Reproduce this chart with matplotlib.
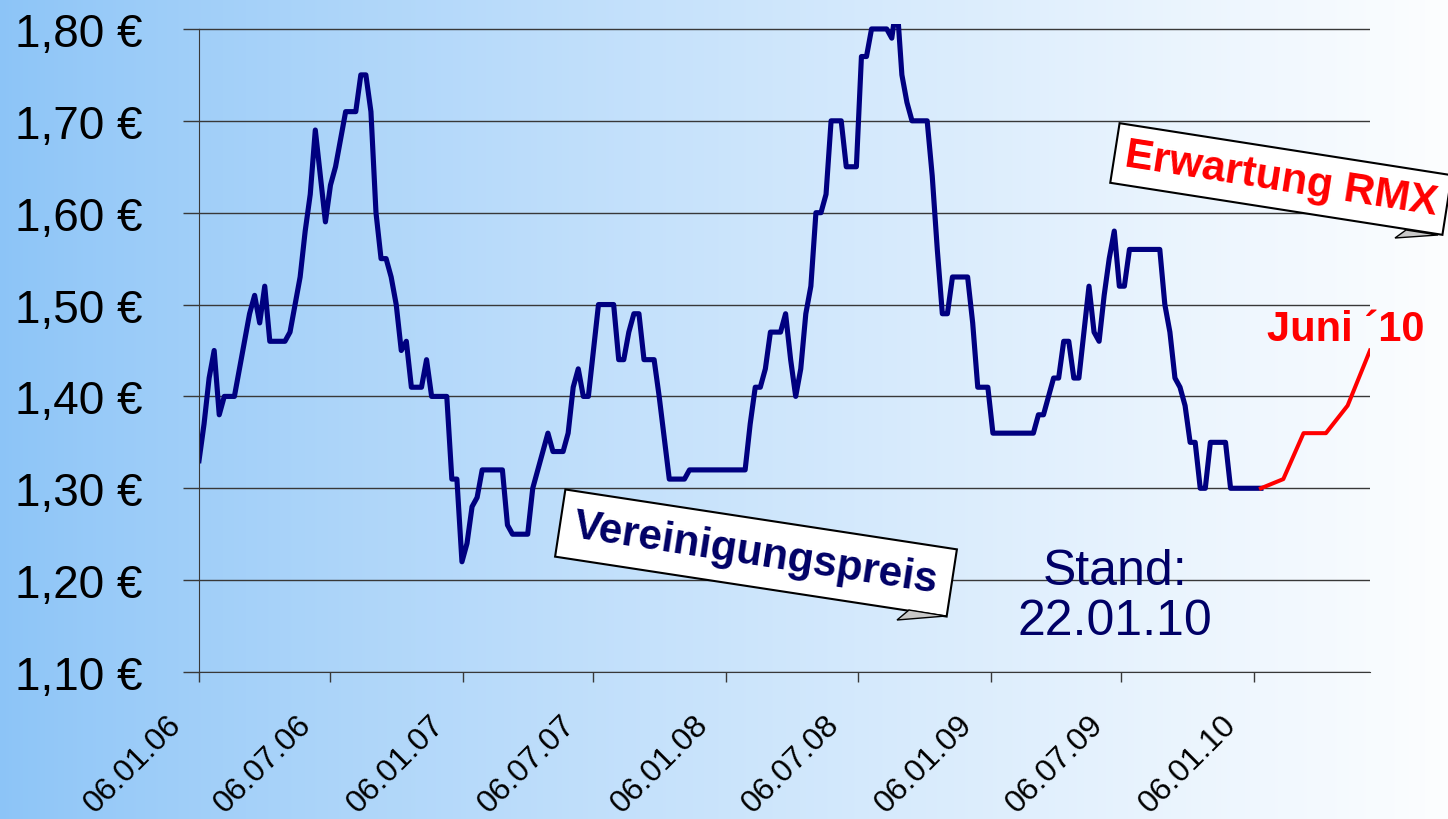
import numpy as np
import pandas as pd
import matplotlib
matplotlib.use('Agg')
import matplotlib.pyplot as plt
import matplotlib.transforms as mtransforms
from matplotlib.patches import Polygon

plt.rcParams['font.family'] = ['Liberation Sans', 'DejaVu Sans']

# Vereinigungspreis, weekly (weeks after 06.01.06, only the corner points)
start = pd.Timestamp('2006-01-06')
blue_weeks = [0, 1, 2, 3, 4, 5, 7, 8, 9, 10, 11, 12, 13, 14, 17, 18, 19, 20, 21, 22,
              23, 24, 25, 26, 27, 28, 29, 31, 32, 33, 34, 35, 36, 37, 38, 39, 40, 41, 42, 44,
              45, 46, 49, 50, 51, 52, 53, 54, 55, 56, 60, 61, 62, 65, 66, 67, 68, 69, 70, 72,
              73, 74, 75, 76, 77, 78, 79, 82, 83, 84, 85, 86, 87, 88, 90, 91, 93, 96, 97, 108,
              109, 110, 111, 112, 113, 115, 116, 117, 118, 119, 120, 121, 122, 123, 124, 125, 127, 128, 130, 131,
              132, 133, 136, 137, 138, 139, 140, 141, 144, 145, 146, 147, 148, 149, 152, 153, 154, 156, 157, 165,
              166, 167, 168, 169, 170, 171, 172, 173, 174, 175, 176, 177, 178, 179, 180, 181, 182, 183, 184, 190,
              191, 192, 193, 194, 195, 196, 197, 198, 199, 200, 203, 204, 210]
blue_prices = [1.33, 1.37, 1.42, 1.45, 1.38, 1.40, 1.40, 1.43, 1.46, 1.49, 1.51, 1.48, 1.52, 1.46, 1.46, 1.47, 1.50, 1.53, 1.58, 1.62,
               1.69, 1.64, 1.59, 1.63, 1.65, 1.68, 1.71, 1.71, 1.75, 1.75, 1.71, 1.60, 1.55, 1.55, 1.53, 1.50, 1.45, 1.46, 1.41, 1.41,
               1.44, 1.40, 1.40, 1.31, 1.31, 1.22, 1.24, 1.28, 1.29, 1.32, 1.32, 1.26, 1.25, 1.25, 1.30, 1.32, 1.34, 1.36, 1.34, 1.34,
               1.36, 1.41, 1.43, 1.40, 1.40, 1.45, 1.50, 1.50, 1.44, 1.44, 1.47, 1.49, 1.49, 1.44, 1.44, 1.40, 1.31, 1.31, 1.32, 1.32,
               1.37, 1.41, 1.41, 1.43, 1.47, 1.47, 1.49, 1.44, 1.40, 1.43, 1.49, 1.52, 1.60, 1.60, 1.62, 1.70, 1.70, 1.65, 1.65, 1.77,
               1.77, 1.80, 1.80, 1.79, 1.83, 1.75, 1.72, 1.70, 1.70, 1.64, 1.56, 1.49, 1.49, 1.53, 1.53, 1.48, 1.41, 1.41, 1.36, 1.36,
               1.38, 1.38, 1.40, 1.42, 1.42, 1.46, 1.46, 1.42, 1.42, 1.47, 1.52, 1.47, 1.46, 1.51, 1.55, 1.58, 1.52, 1.52, 1.56, 1.56,
               1.50, 1.47, 1.42, 1.41, 1.39, 1.35, 1.35, 1.30, 1.30, 1.35, 1.35, 1.30, 1.30]

# Erwartung RMX (monthly)
red_dates = ['2010-01-15', '2010-02-15', '2010-03-15', '2010-04-15', '2010-05-15', '2010-06-15']
red_prices = [1.30, 1.31, 1.36, 1.36, 1.39, 1.45]

tick_dates = ['2006-01-06', '2006-07-06', '2007-01-06', '2007-07-06', '2008-01-06',
              '2008-07-06', '2009-01-06', '2009-07-06', '2010-01-06']
tick_labels = ['06.01.06', '06.07.06', '06.01.07', '06.07.07', '06.01.08',
               '06.07.08', '06.01.09', '06.07.09', '06.01.10']
y_ticks = [1.10, 1.20, 1.30, 1.40, 1.50, 1.60, 1.70, 1.80]
y_labels = ['1,10 €', '1,20 €', '1,30 €', '1,40 €', '1,50 €', '1,60 €', '1,70 €', '1,80 €']

blue_dates = start + pd.to_timedelta(np.array(blue_weeks) * 7, unit='D')
red_dates = pd.to_datetime(red_dates)

W, H = 1448, 820
fig = plt.figure(figsize=(W / 100, H / 100), dpi=100)

# background gradient, blue left to white right
bg = fig.add_axes([0, 0, 1, 1], zorder=0)
t = np.linspace(0, 1, 512)
left = np.array([0.55, 0.77, 0.97])
right = np.array([0.99, 0.995, 1.0])
grad = left[None, :] + (right - left)[None, :] * (t ** 0.85)[:, None]
bg.imshow(grad[None, :, :], aspect='auto', extent=[0, 1, 0, 1])
bg.axis('off')

ax = fig.add_axes([199 / W, 1 - 673 / H, (1370 - 199) / W, (673 - 25) / H], zorder=1)
ax.patch.set_alpha(0)

ax.plot(blue_dates, blue_prices, color='#000080', lw=3.7)
ax.plot(red_dates, red_prices, color='#ff0000', lw=2.9)

ax.set_xlim(pd.Timestamp('2006-01-06'), pd.Timestamp('2010-06-15'))
ax.set_ylim(1.10, 1.8054)

ax.set_yticks(y_ticks)
ax.set_yticklabels(y_labels)
ax.yaxis.grid(True, color='#383838', lw=1)
ax.set_axisbelow(True)
ax.tick_params(axis='y', direction='out', length=11.5, width=1, color='#383838',
               pad=29, labelsize=33)

ax.set_xticks(pd.to_datetime(tick_dates))
ax.set_xticklabels(tick_labels, rotation=45, ha='right', va='top')
ax.tick_params(axis='x', direction='out', length=7, width=1, color='#383838',
               pad=20, labelsize=23)
offset = mtransforms.ScaledTranslation(-12 / 100, 0, fig.dpi_scale_trans)
for lab in ax.get_xticklabels():
    lab.set_transform(lab.get_transform() + offset)

for s in ['top', 'right']:
    ax.spines[s].set_visible(False)
ax.spines['left'].set_bounds(1.10, 1.80)
ax.spines['left'].set_color('#383838')
ax.spines['bottom'].set_color('#383838')


def px(x, y):
    return (x / W, 1 - y / H)


def fold(points):
    xy = [px(x, y) for x, y in points]
    fig.add_artist(Polygon(xy, closed=True, transform=fig.transFigure,
                           facecolor='#c8c8c8', edgecolor='black', lw=1, zorder=6))


# callouts
fig.text(*px(756, 554), 'Vereinigungspreis', rotation=-8.7, rotation_mode='anchor',
         ha='center', va='center', fontsize=30.5, fontweight='bold', color='#000066',
         zorder=5,
         bbox=dict(boxstyle='square,pad=0.33', fc='white', ec='black', lw=1.5))
fold([(897, 621), (909, 611), (946, 617)])

fig.text(*px(1281, 180), 'Erwartung RMX', rotation=-8.9, rotation_mode='anchor',
         ha='center', va='center', fontsize=30.5, fontweight='bold', color='#ff0000',
         zorder=5,
         bbox=dict(boxstyle='square,pad=0.24', fc='white', ec='black', lw=1.5))
fold([(1395, 239), (1406, 231), (1438, 236)])

fig.text(*px(1267, 341), 'Juni ´10', ha='left', va='baseline', fontsize=30,
         fontweight='bold', color='#ff0000', zorder=5)

fig.text(*px(1115, 635), 'Stand:\n22.01.10', ha='center', va='baseline', fontsize=36,
         color='#000066', linespacing=1.12, zorder=5)

fig.savefig('out.png', dpi=100)
